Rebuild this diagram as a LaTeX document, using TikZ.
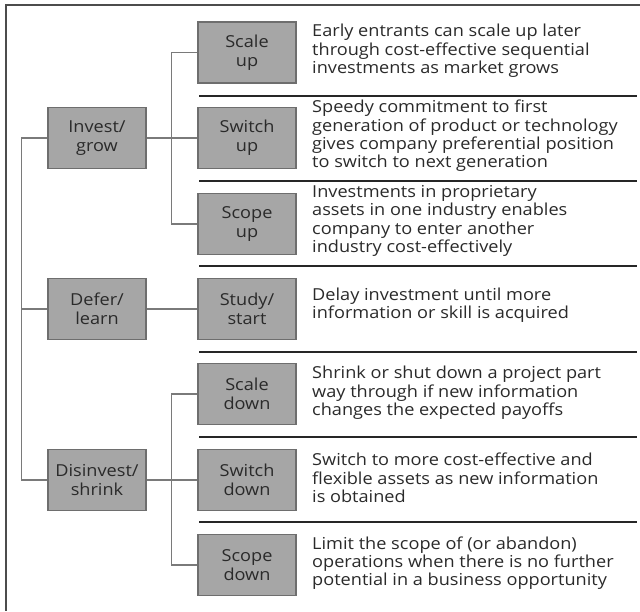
\documentclass[tikz,border=0pt]{standalone}
\usepackage{fontspec}
\setmainfont{Open Sans}[FakeStretch=1.1]
\definecolor{boxfill}{HTML}{A6A6A6}
\definecolor{boxdraw}{HTML}{6E6E6E}
\definecolor{txt}{HTML}{2A2A2A}
\definecolor{conn}{HTML}{7A7A7A}
\begin{document}
\begin{tikzpicture}[x=1pt,y=-1pt,
  optbox/.style={draw=boxdraw,fill=boxfill,line width=1.2pt,minimum width=98pt,minimum height=61pt,
    align=center,inner sep=0pt,text=txt,font=\fontsize{16.5}{19}\selectfont},
  desc/.style={anchor=west,align=left,inner sep=0pt,text=txt,font=\fontsize{16.5}{18.3}\selectfont},
  conline/.style={draw=conn,line width=1.2pt},
  sepline/.style={draw=black!85,line width=1.5pt}]
\useasboundingbox (0,0) rectangle (640,611);
\draw[line width=2pt,draw=black!70] (640,5) -- (6,5) -- (6,611);
% left boxes
\node[optbox] (invest) at (97,138) {Invest/\\grow};
\node[optbox] (defer) at (97,309) {Defer/\\learn};
\node[optbox] (disinvest) at (97,480) {Disinvest/\\shrink};
% right boxes
\node[optbox] (scaleup) at (247,52.5) {Scale\\up};
\node[optbox] (switchup) at (247,138) {Switch\\up};
\node[optbox] (scopeup) at (247,224) {Scope\\up};
\node[optbox] (study) at (247,309) {Study/\\start};
\node[optbox] (scaledown) at (247,394) {Scale\\down};
\node[optbox] (switchdown) at (247,480) {Switch\\down};
\node[optbox] (scopedown) at (247,565) {Scope\\down};
% connectors
\draw[conline] (invest.west) -- ++(-26,0) |- (disinvest.west);
\draw[conline] (defer.west) -- ++(-26,0);
\draw[conline] (invest.east) -- (switchup.west);
\draw[conline] (defer.east) -- (study.west);
\draw[conline] (disinvest.east) -- (switchdown.west);
\draw[conline] (scaleup.west) -- ++(-26,0) |- (scopeup.west);
\draw[conline] (scaledown.west) -- ++(-26,0) |- (scopedown.west);
% separators
\foreach \y/\n in {96/s1,181/s2,266/s3,352/s4,437/s5,522/s6}{
  \coordinate (\n a) at (199,\y); \coordinate (\n b) at (637,\y);
  \draw[sepline] (\n a) -- (\n b);
}
% descriptions
\node[desc] (d1) at (312,51) {Early entrants can scale up later\\through cost-effective sequential\\investments as market grows};
\node[desc] (d2) at (312,136) {Speedy commitment to first\\generation of product or technology\\gives company preferential position\\to switch to next generation};
\node[desc] (d3) at (312,221) {Investments in proprietary\\assets in one industry enables\\company to enter another\\industry cost-effectively};
\node[desc] (d4) at (312,305) {Delay investment until more\\information or skill is acquired};
\node[desc] (d5) at (312,393) {Shrink or shut down a project part\\way through if new information\\changes the expected payoffs};
\node[desc] (d6) at (312,478) {Switch to more cost-effective and\\flexible assets as new information\\is obtained};
\node[desc] (d7) at (312,563) {Limit the scope of (or abandon)\\operations when there is no further\\potential in a business opportunity};
\end{tikzpicture}
\end{document}
